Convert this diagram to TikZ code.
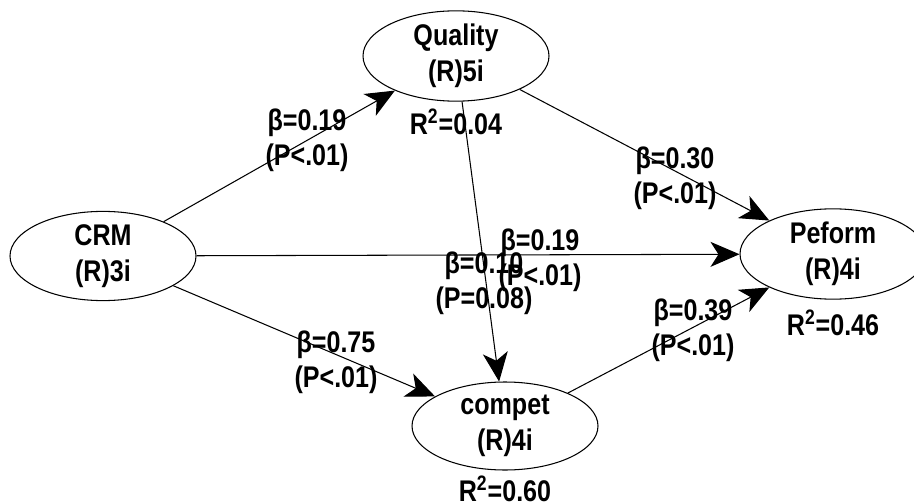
\documentclass[tikz,border=0pt]{standalone}
\usepackage{fontspec}
\setmainfont{Liberation Sans}[FakeStretch=0.84]
\usepackage{tikz}
\usetikzlibrary{positioning, arrows.meta, shapes.geometric}

\begin{document}
\begin{tikzpicture}[
  lv/.style={ellipse, draw=black, line width=0.6pt, minimum width=3.72cm, minimum height=1.76cm,
    inner sep=0pt, align=center, font=\fontsize{17}{20.5}\selectfont\bfseries},
  rsq/.style={inner sep=0pt, font=\fontsize{17}{20}\selectfont\bfseries},
  coef/.style={inner sep=0pt, align=center, font=\fontsize{17}{20}\selectfont\bfseries},
  arr/.style={draw=black, line width=0.6pt, -{Stealth[length=0.58cm, width=0.5cm, inset=0.16cm]}},
]
  \useasboundingbox (0,0) rectangle (18.28,-10.08);

  % Latent variables
  \node[lv] (crm) at (2.06,-5.12) {CRM\\(R)3i};
  \node[lv] (qual) at (9.12,-1.12) {Quality\\(R)5i};
  \node[lv] (perf) at (16.66,-5.08) {Peform\\(R)4i};
  \node[lv] (comp) at (10.10,-8.52) {compet\\(R)4i};

  % R squared
  \node[rsq, below=0.14cm of qual] (rq) {R\textsuperscript{2}=0.04};
  \node[rsq, below=0.2cm of perf] (rp) {R\textsuperscript{2}=0.46};
  \node[rsq, below=0.1cm of comp] (rc) {R\textsuperscript{2}=0.60};

  % Paths
  \draw[arr] (crm) -- (qual);
  \draw[arr] (crm) -- (perf);
  \draw[arr] (crm) -- (comp);
  \draw[arr] (qual) -- (perf);
  \draw[arr] (qual) -- (comp);
  \draw[arr] (comp) -- (perf);

  % Path coefficients
  \node[coef] (cq) at (6.14,-2.80) {β=0.19\\(P<.01)};
  \node[coef] (qp) at (13.50,-3.56) {β=0.30\\(P<.01)};
  \node[coef] (cp) at (10.80,-5.20) {β=0.19\\(P<.01)};
  \node[coef] (qc) at (9.68,-5.66) {β=0.10\\(P=0.08)};
  \node[coef] (mp) at (13.86,-6.60) {β=0.39\\(P<.01)};
  \node[coef] (cc) at (6.72,-7.24) {β=0.75\\(P<.01)};
\end{tikzpicture}
\end{document}
